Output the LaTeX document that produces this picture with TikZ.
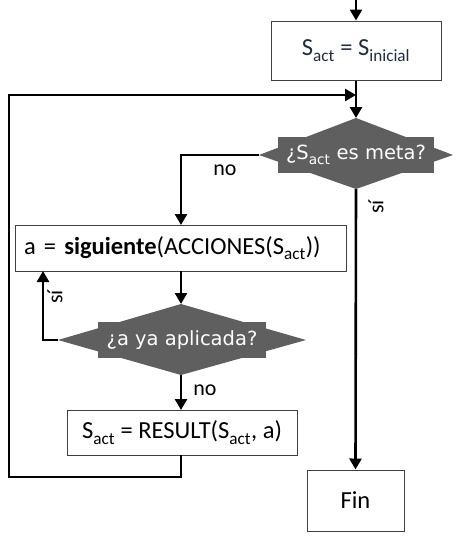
\documentclass[tikz,border=0pt]{standalone}
\usepackage{fontspec}
\setmainfont{Carlito}
\newfontfamily\dvfont{DejaVu Sans}
\usetikzlibrary{arrows.meta,shapes.geometric}
\definecolor{decfill}{HTML}{5F5F5F}
\definecolor{initxt}{HTML}{1F2A44}
\newcommand{\sbs}[1]{\textsubscript{\raisebox{-0.25ex}{#1}}}
\tikzset{
  flow/.style={line width=2.6pt, -{Triangle[length=11pt,width=12pt]}},
  plain/.style={line width=2.6pt},
  procbox/.style={draw=black!75, line width=1pt, fill=white, inner sep=0pt},
  decision/.style={draw=none, fill=decfill, text=white, font=\dvfont\fontsize{19.5}{22}\selectfont},
  lbl/.style={font=\fontsize{22}{24}\selectfont},
}
\begin{document}
\begin{tikzpicture}[x=1pt,y=-1pt]
\useasboundingbox (0,0) rectangle (458,536);
\fontsize{24.5}{28}\selectfont
% process boxes and decisions
\node[procbox, minimum width=170pt, minimum height=59pt, text=initxt] (init) at (356,50.5) {S\sbs{act} = S\sbs{inicial}};
\path[fill=decfill] (259,155) -- (356,118) -- (453,155) -- (356,189) -- cycle;
\node[decision] (meta) at (356,155) {¿S\sbs{act} es meta?};
\node[procbox, minimum width=331pt, minimum height=46pt, text width=313pt, align=left] (next) at (180.5,248) {a = \textbf{siguiente}(ACCIONES(S\sbs{act}))};
\path[fill=decfill] (58,340) -- (181,304) -- (306,340) -- (181,375) -- cycle;
\node[decision] (appl) at (182,340) {¿a ya aplicada?};
\node[procbox, minimum width=230pt, minimum height=45pt] (res) at (182,432.5) {S\sbs{act} = RESULT(S\sbs{act}, a)};
\node[procbox, minimum width=97pt, minimum height=61pt] (fin) at (355.5,500.5) {Fin};
% anchor points for connectors
\coordinate (top) at (356,0);
\coordinate (metaT) at (356,118);
\coordinate (metaL) at (259,155);
\coordinate (metaB) at (356,189);
\coordinate (applT) at (181,304);
\coordinate (applL) at (58,340);
\coordinate (applB) at (181,375);
\coordinate (join) at (356,95);
% connectors
\draw[flow] (top) -- (init.north);
\draw[flow] (init.south) -- (metaT);
\draw[flow] (metaL) -| (181,225);
\draw[flow] (metaB) -- (fin.north);
\draw[flow] (181,271) -- (applT);
\draw[flow] (applL) -| (43,271);
\draw[flow] (applB) -- (181,410);
\draw[plain] (181,455) |- (9,477) -- (9,95) -- ++(2,0);
\draw[flow] (9,95) -- (join);
% branch labels
\node[lbl] at (225,170) {no};
\node[lbl, rotate=90] at (376,207) {sí};
\node[lbl, rotate=90] at (55,297) {sí};
\node[lbl] at (205,390) {no};
\end{tikzpicture}
\end{document}
